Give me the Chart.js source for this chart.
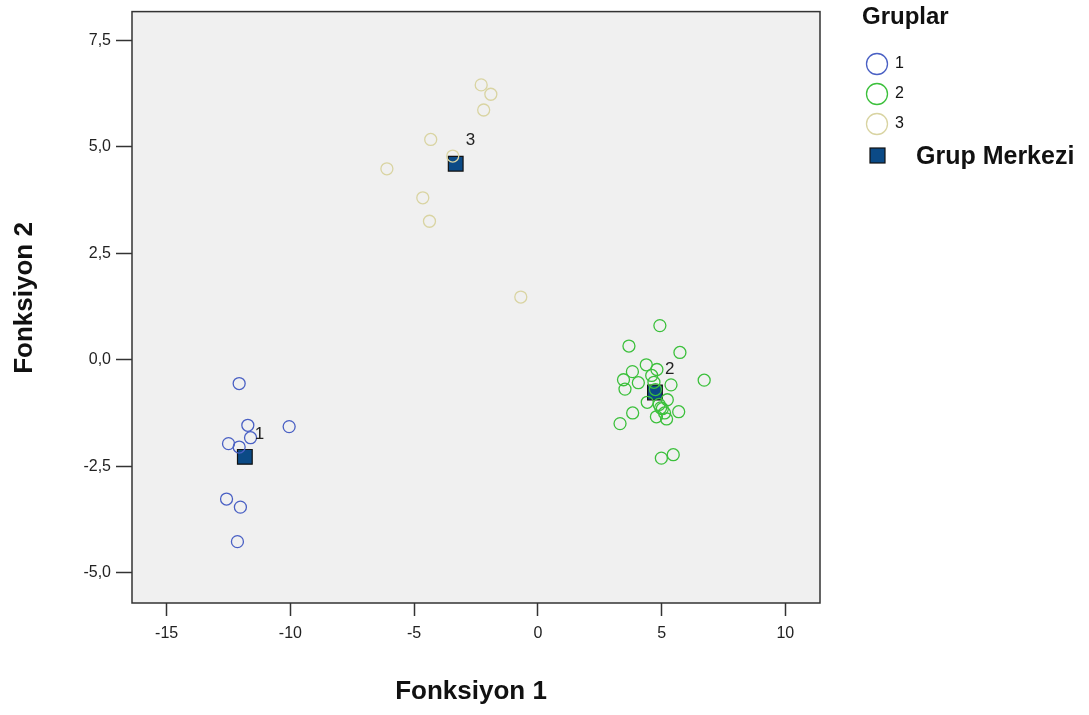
<!DOCTYPE html>
<html>
<head>
<meta charset="utf-8">
<script src="https://cdn.jsdelivr.net/npm/chart.js@4"></script>
<style>
  body { margin: 0; background: #fff; }
  #wrap { width: 1089px; height: 715px; }
</style>
</head>
<body>
<div id="wrap"><canvas id="grafico" width="1089" height="715"></canvas></div>
<script>
// veri (Fonksiyon 1, Fonksiyon 2)
const grup1 = [[-12.07,-0.56],[-11.72,-1.54],[-10.05,-1.57],[-11.61,-1.83],[-12.5,-1.97],[-12.07,-2.05],[-12.58,-3.27],[-12.02,-3.46],[-12.14,-4.27]];
const grup2 = [[4.93,0.80],[3.68,0.32],[5.74,0.17],[6.72,-0.48],[4.38,-0.12],[4.81,-0.23],[3.82,-0.28],[3.46,-0.47],[4.06,-0.54],[3.52,-0.69],[4.60,-0.37],[4.69,-0.53],[5.38,-0.59],[5.23,-0.94],[4.42,-1.00],[5.03,-1.15],[5.69,-1.22],[3.83,-1.25],[5.12,-1.25],[4.79,-1.34],[5.20,-1.39],[3.32,-1.50],[4.99,-2.31],[5.47,-2.23],[4.96,-1.13],[4.90,-1.05],[4.75,-0.70]];
const grup3 = [[-2.29,6.45],[-1.90,6.23],[-2.19,5.86],[-4.33,5.17],[-3.44,4.78],[-6.10,4.48],[-4.65,3.80],[-4.38,3.25],[-0.69,1.47]];
const merkezler = [[-11.84,-2.28],[4.73,-0.77],[-3.32,4.60]];
const merkezEtiketleri = ['1', '2', '3'];
const grupAdlari = ['1', '2', '3'];
const xTicks = [-15, -10, -5, 0, 5, 10];
const yTicks = [-5, -2.5, 0, 2.5, 5, 7.5];

const renkler = ['#4a60c4', '#3cc03c', '#d9d4a2'];
const fontAdi = '"Liberation Sans", Arial, sans-serif';

const noktalar = arr => arr.map(p => ({ x: p[0], y: p[1] }));

function grupSeti(label, data, renk) {
    return {
        label: label,
        data: noktalar(data),
        pointStyle: 'circle',
        pointRadius: 6,
        pointHoverRadius: 6,
        borderColor: renk,
        backgroundColor: 'rgba(0,0,0,0)',
        borderWidth: 1.3
    };
}

const cercevePlugin = {
    id: 'cerceve',
    beforeDraw(chart) {
        const { ctx, chartArea: a } = chart;
        ctx.save();
        ctx.fillStyle = '#f0f0f0';
        ctx.fillRect(a.left, a.top, a.right - a.left, a.bottom - a.top);
        ctx.restore();
    },
    afterDraw(chart) {
        const { ctx, chartArea: a, scales } = chart;
        ctx.save();
        ctx.strokeStyle = '#333';
        ctx.lineWidth = 1.5;
        ctx.strokeRect(a.left, a.top, a.right - a.left, a.bottom - a.top);

        // merkez etiketleri
        ctx.fillStyle = '#222';
        ctx.font = '17px ' + fontAdi;
        ctx.textAlign = 'left';
        ctx.textBaseline = 'middle';
        merkezler.forEach((m, i) => {
            const px = scales.x.getPixelForValue(m[0]);
            const py = scales.y.getPixelForValue(m[1]);
            ctx.fillText(merkezEtiketleri[i], px + 10, py - 23);
        });

        // eksen basliklari
        ctx.fillStyle = '#111';
        ctx.font = 'bold 26px ' + fontAdi;
        ctx.textAlign = 'center';
        ctx.fillText('Fonksiyon 1', 471, 692);
        ctx.save();
        ctx.translate(25, 298);
        ctx.rotate(-Math.PI / 2);
        ctx.fillText('Fonksiyon 2', 0, 0);
        ctx.restore();

        // lejant
        ctx.textAlign = 'left';
        ctx.font = 'bold 24px ' + fontAdi;
        ctx.fillText('Gruplar', 862, 17);
        ctx.font = '16px ' + fontAdi;
        grupAdlari.forEach((g, i) => {
            const y = 64 + i * 30;
            ctx.beginPath();
            ctx.arc(877, y, 10.5, 0, Math.PI * 2);
            ctx.strokeStyle = renkler[i];
            ctx.lineWidth = 1.3;
            ctx.stroke();
            ctx.fillStyle = '#111';
            ctx.fillText(g, 895, y);
        });
        ctx.fillStyle = '#0b4a86';
        ctx.fillRect(870, 148, 15, 15);
        ctx.strokeStyle = '#111';
        ctx.lineWidth = 1.2;
        ctx.strokeRect(870, 148, 15, 15);
        ctx.fillStyle = '#111';
        ctx.font = 'bold 25px ' + fontAdi;
        ctx.fillText('Grup Merkezi', 916, 157);
        ctx.restore();
    }
};

const ctx = document.getElementById('grafico').getContext('2d');
window.myChart = new Chart(ctx, {
    type: 'scatter',
    data: {
        datasets: [
            grupSeti('1', grup1, renkler[0]),
            grupSeti('2', grup2, renkler[1]),
            grupSeti('3', grup3, renkler[2]),
            {
                label: 'Grup Merkezi',
                data: noktalar(merkezler),
                pointStyle: 'rect',
                pointRadius: 10.4,
                pointHoverRadius: 10.4,
                backgroundColor: '#0b4a86',
                borderColor: '#111',
                borderWidth: 1.2
            }
        ]
    },
    options: {
        responsive: false,
        animation: false,
        layout: { padding: { top: 8, right: 269, left: 0, bottom: 0 } },
        plugins: { legend: { display: false }, tooltip: { enabled: false } },
        scales: {
            x: {
                type: 'linear',
                min: -16.4,
                max: 11.4,
                afterBuildTicks: s => { s.ticks = xTicks.map(v => ({ value: v })); },
                afterFit: s => { s.height = 715 - 603; s.paddingLeft = 0; s.paddingRight = 0; },
                grid: { drawOnChartArea: false, drawTicks: true, tickLength: 13, tickColor: '#333', tickWidth: 1.5 },
                border: { display: false },
                ticks: { color: '#222', padding: 8, font: { size: 16, family: fontAdi }, callback: v => String(v), maxRotation: 0 }
            },
            y: {
                type: 'linear',
                min: -5.71,
                max: 8.17,
                afterBuildTicks: s => { s.ticks = yTicks.map(v => ({ value: v })); },
                afterFit: s => { s.width = 132; s.paddingTop = 0; s.paddingBottom = 0; },
                grid: { drawOnChartArea: false, drawTicks: true, tickLength: 16, tickColor: '#333', tickWidth: 1.5 },
                border: { display: false },
                ticks: { color: '#222', padding: 5, font: { size: 16, family: fontAdi }, callback: v => v.toFixed(1).replace('.', ',') }
            }
        }
    },
    plugins: [cercevePlugin]
});
</script>
</body>
</html>
